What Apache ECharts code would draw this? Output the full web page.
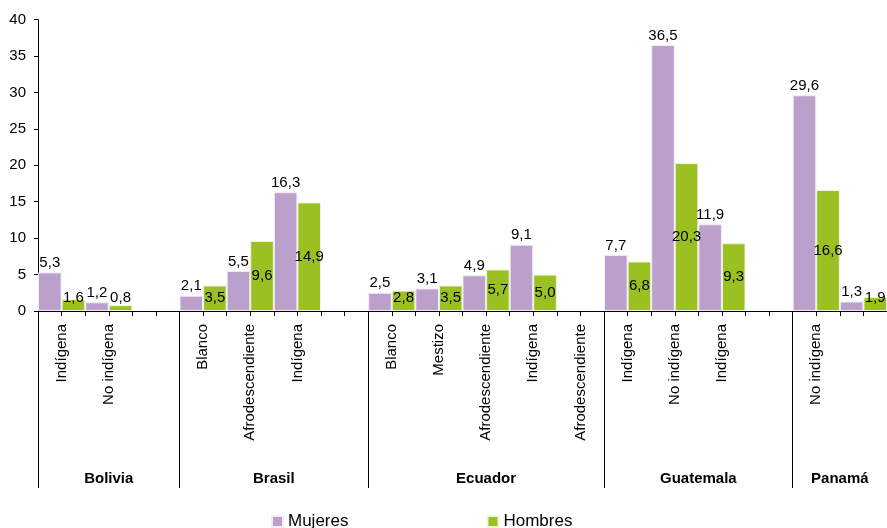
<!DOCTYPE html>
<html>
<head>
<meta charset="utf-8">
<script src="https://cdn.jsdelivr.net/npm/echarts@6/dist/echarts.min.js"></script>
<style>
    html, body { margin: 0; padding: 0; background: #fff; }
    #chart { width: 887px; height: 528px; }
</style>
</head>
<body>
<div id="chart"></div>
<script>
/**
 * 数据
 */
var categories = ['Indígena', 'No indígena', '',
    'Blanco', 'Afrodescendiente', 'Indígena', '',
    'Blanco', 'Mestizo', 'Afrodescendiente', 'Indígena', 'Afrodescendiente',
    'Indígena', 'No indígena', 'Indígena', '',
    'No indígena', ''];
var mujeres = [5.3, 1.2, null,
    2.1, 5.5, 16.3, null,
    2.5, 3.1, 4.9, 9.1, null,
    7.7, 36.5, 11.9, null,
    29.6, 1.3];
var hombres = [1.6, 0.8, null,
    3.5, 9.6, 14.9, null,
    2.8, 3.5, 5.7, 5.0, null,
    6.8, 20.3, 9.3, null,
    16.6, 1.9];
var countries = ['Bolivia', 'Brasil', 'Ecuador', 'Guatemala', 'Panamá'];
var groupSizes = [3, 4, 5, 4, 2];
var yTicks = [0, 5, 10, 15, 20, 25, 30, 35, 40];

// 分组边界和中心
var bounds = [0];
var centers = [];
var acc = 0;
for (var i = 0; i < groupSizes.length; i++) {
    centers.push(acc + groupSizes[i] / 2);
    acc += groupSizes[i];
    bounds.push(acc);
}

function fmt(p) {
    return p.value == null ? '' : p.value.toFixed(1).replace('.', ',');
}

// 矮柱子的标签贴着底部放(像 Excel 那样不掉出绘图区)
function hombresItems(arr) {
    return arr.map(function (v) {
        if (v != null && v < 3.7) {
            return { value: v, label: { position: 'insideBottom', distance: 6 } };
        }
        return v;
    });
}

var chart = echarts.init(document.getElementById('chart'));
var option = {
    animation: false,
    textStyle: { fontFamily: 'Liberation Sans, Arial, sans-serif' },
    legend: {
        left: 266,
        top: 508,
        icon: 'rect',
        itemWidth: 11,
        itemHeight: 11,
        itemGap: 138,
        textStyle: { fontSize: 17, color: '#000' },
        data: ['Mujeres', 'Hombres']
    },
    grid: { left: 38, right: 0, top: 19.5, bottom: 217, outerBoundsMode: 'none', containLabel: false },
    xAxis: [{
        type: 'category',
        position: 'bottom',
        data: categories,
        axisLine: { lineStyle: { color: '#000' } },
        axisTick: { show: false },
        axisLabel: {
            interval: 0,
            rotate: 90,
            margin: 13,
            fontSize: 15,
            color: '#000'
        }
    }, {
        // 每根柱子之间的小刻度
        type: 'value',
        position: 'bottom',
        offset: 0,
        min: 0,
        max: categories.length * 2,
        interval: 1,
        axisLine: { show: false },
        splitLine: { show: false },
        axisTick: { show: true, length: 5, lineStyle: { color: '#000' } },
        axisLabel: { show: false }
    }, {
        // 国家分组线和名称
        type: 'value',
        position: 'bottom',
        offset: 0,
        min: 0,
        max: categories.length,
        axisLine: { show: false },
        splitLine: { show: false },
        axisTick: {
            show: true,
            customValues: bounds,
            length: 177,
            lineStyle: { color: '#000' }
        },
        axisLabel: {
            customValues: centers,
            margin: 160,
            fontSize: 15,
            fontWeight: 'bold',
            color: '#000',
            formatter: function (v) {
                var k = centers.indexOf(v);
                return k >= 0 ? countries[k] : '';
            }
        }
    }],
    yAxis: {
        type: 'value',
        min: yTicks[0],
        max: yTicks[yTicks.length - 1],
        interval: 5,
        splitLine: { show: false },
        axisLine: { show: true, lineStyle: { color: '#000' } },
        axisTick: { show: true, length: 4, lineStyle: { color: '#000' } },
        axisLabel: { margin: 12, fontSize: 15, color: '#000' }
    },
    series: [{
        name: 'Mujeres',
        type: 'bar',
        xAxisIndex: 0,
        data: mujeres,
        barGap: '0%',
        barCategoryGap: '0%',
        itemStyle: { color: '#BBA0CB', borderColor: '#f2eef4', borderWidth: 1 },
        label: {
            show: true,
            position: 'top',
            distance: 2,
            fontSize: 15,
            color: '#000',
            formatter: fmt
        }
    }, {
        name: 'Hombres',
        type: 'bar',
        xAxisIndex: 0,
        data: hombresItems(hombres),
        barGap: '0%',
        barCategoryGap: '0%',
        itemStyle: { color: '#9BC021', borderColor: '#f0f4e4', borderWidth: 1 },
        label: {
            show: true,
            position: 'inside',
            fontSize: 15,
            color: '#000',
            formatter: fmt
        }
    }]
};
chart.setOption(option);
</script>
</body>
</html>
